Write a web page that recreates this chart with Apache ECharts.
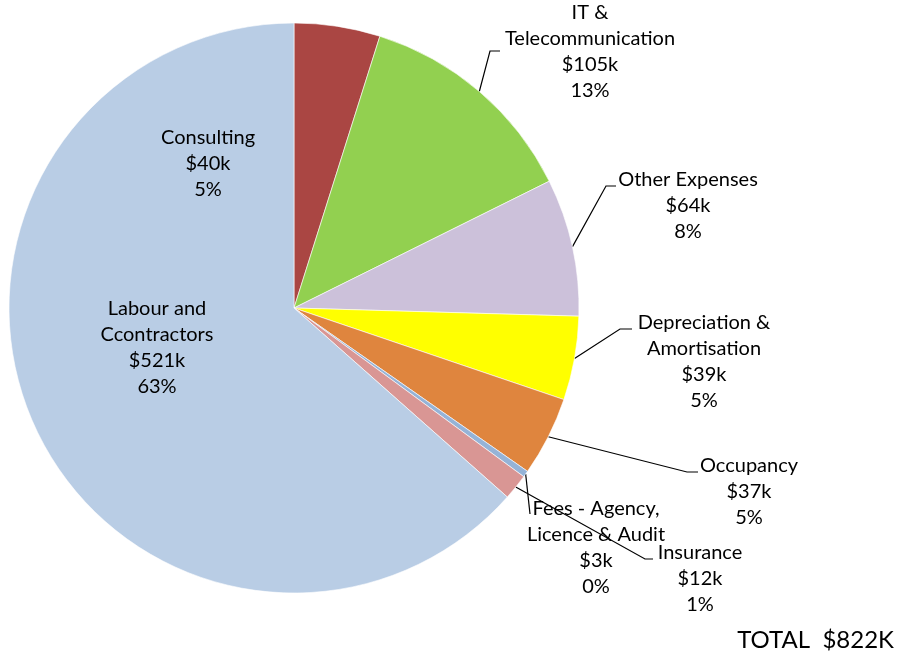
<!DOCTYPE html>
<html>
<head>
<meta charset="utf-8">
<script src="https://cdn.jsdelivr.net/npm/echarts@6/dist/echarts.min.js"></script>
<style>
    html, body { margin: 0; padding: 0; background: #fff; }
    #main { width: 901px; height: 654px; }
</style>
</head>
<body>
<div id="main"></div>
<script>
var categories = ['Consulting', 'IT &\nTelecommunication', 'Other Expenses', 'Depreciation &\nAmortisation',
    'Occupancy', 'Fees - Agency,\nLicence & Audit', 'Insurance', 'Labour and\nCcontractors'];
var values = [40, 105, 64, 39, 37, 3, 12, 521];
var totalText = 'TOTAL  $822K';

var colors = ['#AA4643', '#92D050', '#CCC1DA', '#FFFF00', '#DF853E', '#95B3D7', '#D99694', '#B9CDE5'];
// label placement: [centre x, top y, line end x, line end y, elbow x]
var labelPos = [
    [208, 125],
    [590, 0, 500, 51, 490],
    [688, 167, 616, 186, 606],
    [704, 310, 632, 329, 620],
    [749, 453, 698, 472, 687],
    [596, 496, 530, 514, 530],
    [700, 540, 653, 559, 645],
    [157, 296]
];
var cx = 294, cy = 308, r = 285;
var font = 'Lato';

var total = 0;
for (var i = 0; i < values.length; i++) total += values[i];

// point on the rim at the middle of slice i
function anchor(i) {
    var before = 0;
    for (var k = 0; k < i; k++) before += values[k];
    var a = (before + values[i] / 2) / total * Math.PI * 2;
    return [cx + r * Math.sin(a), cy - r * Math.cos(a)];
}

var pieData = [];
for (var i = 0; i < values.length; i++) {
    pieData.push({
        name: categories[i],
        value: values[i],
        itemStyle: { color: colors[i] },
        labelLine: { show: labelPos[i].length > 2 }
    });
}

var myChart = echarts.init(document.getElementById('main'));
var option = {
    animation: false,
    title: {
        text: totalText,
        right: 2,
        bottom: -3,
        textStyle: { fontFamily: font, fontSize: 24, fontWeight: 'normal', color: '#000' }
    },
    series: [{
        type: 'pie',
        center: [cx, cy],
        radius: r,
        startAngle: 90,
        clockwise: true,
        avoidLabelOverlap: false,
        itemStyle: { borderColor: '#fff', borderWidth: 0.6 },
        label: {
            show: true,
            position: 'outside',
            fontFamily: font,
            fontSize: 20,
            lineHeight: 26,
            color: '#000',
            formatter: function (p) {
                return p.name + '\n$' + p.value + 'k\n' + Math.round(p.value / total * 100) + '%';
            }
        },
        labelLine: { lineStyle: { color: '#000', width: 1.2 } },
        labelLayout: function (params) {
            var p = labelPos[params.dataIndex];
            var out = { x: p[0], y: p[1], align: 'center', verticalAlign: 'top' };
            if (p.length > 2) {
                out.labelLinePoints = [anchor(params.dataIndex), [p[4], p[3]], [p[2], p[3]]];
            }
            return out;
        },
        data: pieData
    }]
};
myChart.setOption(option);
</script>
</body>
</html>
